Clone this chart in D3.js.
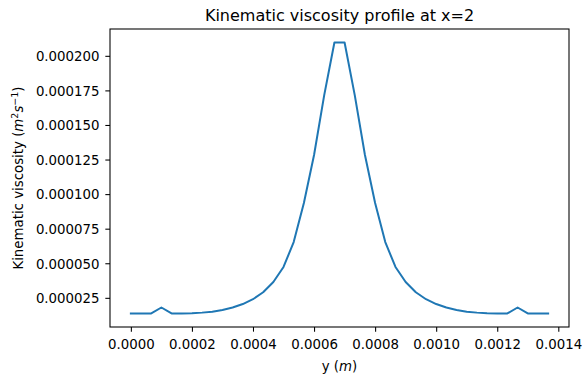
<!DOCTYPE html>
<html>
<head>
<meta charset="utf-8">
<script src="https://cdn.jsdelivr.net/npm/d3@7"></script>
<style>
  html, body { margin: 0; padding: 0; background: #fff; }
  svg { display: block; font-family: "DejaVu Sans", sans-serif; }
</style>
</head>
<body>
<svg id="chart" width="584" height="382"></svg>
<script>
// Cross-stream positions y (m)
const yPos = [
  0, 0.0000333, 0.0000667, 0.0001, 0.0001333, 0.0001667, 0.0002, 0.0002333,
  0.0002667, 0.0003, 0.0003333, 0.0003667, 0.0004, 0.0004333, 0.0004667, 0.0005,
  0.0005333, 0.0005667, 0.0006, 0.0006333, 0.0006667, 0.0007, 0.0007333, 0.0007667,
  0.0008, 0.0008333, 0.0008667, 0.0009, 0.0009333, 0.0009667, 0.001, 0.0010333,
  0.0010667, 0.0011, 0.0011333, 0.0011667, 0.0012, 0.0012333, 0.0012667, 0.0013,
  0.0013333, 0.0013667
];

// Kinematic viscosity at x=2 (m^2 s^-1)
const nu = [
  0.0000137, 0.0000137, 0.0000137, 0.0000180, 0.0000137, 0.0000137, 0.0000139, 0.0000143,
  0.0000150, 0.0000162, 0.0000180, 0.0000205, 0.0000240, 0.0000290, 0.0000364, 0.0000473,
  0.0000653, 0.0000936, 0.0001283, 0.0001716, 0.0002096, 0.0002096, 0.0001716, 0.0001283,
  0.0000936, 0.0000653, 0.0000473, 0.0000364, 0.0000290, 0.0000240, 0.0000205, 0.0000180,
  0.0000162, 0.0000150, 0.0000143, 0.0000139, 0.0000137, 0.0000137, 0.0000180, 0.0000137,
  0.0000137, 0.0000137
];

const xTicks = [0, 0.0002, 0.0004, 0.0006, 0.0008, 0.0010, 0.0012, 0.0014];
const yTicks = [0.000025, 0.00005, 0.000075, 0.0001, 0.000125, 0.00015, 0.000175, 0.0002];

const titleText = "Kinematic viscosity profile at x=2";

// Plot area
const L = 110, R = 569, T = 29, B = 327;
const svg = d3.select("#chart");

// Domains padded by 5% on each side
function padded(values) {
  const [lo, hi] = d3.extent(values);
  const m = (hi - lo) * 0.05;
  return [lo - m, hi + m];
}

const x = d3.scaleLinear().domain(padded(yPos)).range([L, R]);
const y = d3.scaleLinear().domain(padded(nu)).range([B, T]);

const tickLen = 4.67;
const fs = 13.33;

// Curve
const line = d3.line().x((d, i) => x(yPos[i])).y(d => y(d));
svg.append("path")
  .datum(nu)
  .attr("d", line)
  .attr("fill", "none")
  .attr("stroke", "#1f77b4")
  .attr("stroke-width", 2)
  .attr("stroke-linejoin", "round")
  .attr("stroke-linecap", "square");

// X axis
const gx = svg.append("g")
  .attr("transform", `translate(0,${B})`)
  .call(d3.axisBottom(x).tickValues(xTicks).tickFormat(d3.format(".4f"))
    .tickSize(tickLen).tickSizeOuter(0));
gx.select(".domain").remove();
gx.selectAll(".tick line").attr("stroke", "#000").attr("stroke-width", 1.07);
gx.selectAll(".tick text")
  .attr("y", 21.5).attr("dy", 0)
  .attr("fill", "#000")
  .style("font-family", "DejaVu Sans")
  .style("font-size", fs + "px");

// Y axis
const gy = svg.append("g")
  .attr("transform", `translate(${L},0)`)
  .call(d3.axisLeft(y).tickValues(yTicks).tickFormat(d3.format(".6f"))
    .tickSize(tickLen).tickSizeOuter(0));
gy.select(".domain").remove();
gy.selectAll(".tick line").attr("stroke", "#000").attr("stroke-width", 1.07);
gy.selectAll(".tick text")
  .attr("x", -10.5).attr("dy", "0.36em")
  .attr("fill", "#000")
  .style("font-family", "DejaVu Sans")
  .style("font-size", fs + "px");

// Frame
svg.append("rect")
  .attr("x", L).attr("y", T)
  .attr("width", R - L).attr("height", B - T)
  .attr("fill", "none")
  .attr("stroke", "#000")
  .attr("stroke-width", 1.07);

// Title
svg.append("text")
  .attr("x", (L + R) / 2).attr("y", 21)
  .attr("text-anchor", "middle")
  .attr("fill", "#000")
  .style("font-size", "16px")
  .text(titleText);

// X label: y (m)
const xl = svg.append("text")
  .attr("x", (L + R) / 2).attr("y", 371)
  .attr("text-anchor", "middle")
  .attr("fill", "#000")
  .style("font-size", fs + "px");
xl.append("tspan").text("y (");
xl.append("tspan").style("font-style", "italic").text("m");
xl.append("tspan").text(")");

// Y label: Kinematic viscosity (m^2 s^-1)
const yl = svg.append("text")
  .attr("transform", `translate(22.5,${(T + B) / 2}) rotate(-90)`)
  .attr("text-anchor", "middle")
  .attr("fill", "#000")
  .style("font-size", fs + "px");
yl.append("tspan").text("Kinematic viscosity (");
yl.append("tspan").style("font-style", "italic").text("m");
yl.append("tspan").attr("baseline-shift", "5.5").style("font-size", "9.5px").text("2");
yl.append("tspan").style("font-style", "italic").text("s");
yl.append("tspan").attr("baseline-shift", "5.5").style("font-size", "9.5px").text("\u22121");
yl.append("tspan").text(")");
</script>
</body>
</html>
